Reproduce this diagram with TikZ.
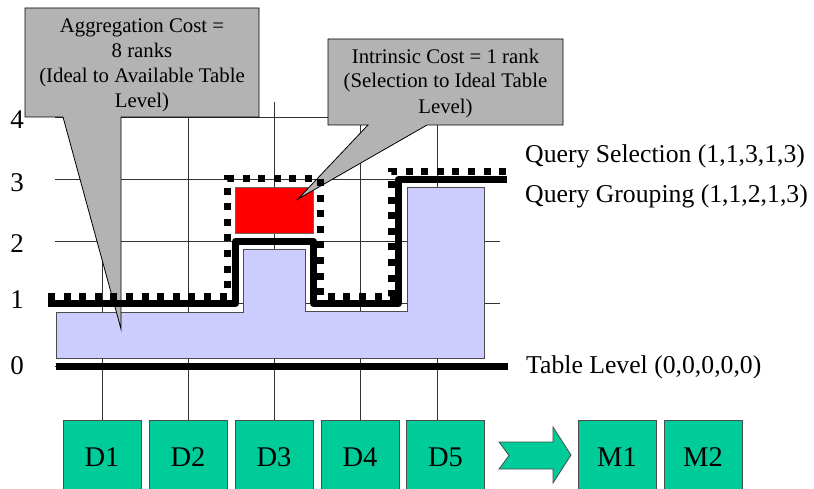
\documentclass[tikz,border=0pt]{standalone}
\usepackage{fontspec}
\setmainfont{Liberation Serif}
\definecolor{dimgreen}{RGB}{0,204,153}
\definecolor{lav}{RGB}{204,204,255}
\definecolor{calloutgray}{RGB}{179,179,179}
\begin{document}
\begin{tikzpicture}[x=1pt,y=-1pt,
  gridline/.style={line width=0.9pt, draw=black!80},
  dimbox/.style={draw=black!70, line width=0.8pt, fill=dimgreen, minimum width=78pt,
    minimum height=74pt, inner sep=0pt, font=\fontsize{28.5}{30}\selectfont},
  callout/.style={fill=calloutgray, draw=black, line width=0.8pt},
  calltext/.style={align=center, inner sep=0pt, font=\fontsize{20.8}{25}\selectfont},
  lvl/.style={inner sep=0pt, anchor=base, font=\fontsize{27}{30}\selectfont},
  sidelabel/.style={inner sep=0pt, anchor=base west, font=\fontsize{25.7}{30}\selectfont},
  grouping/.style={line width=7pt, line join=round},
  selection/.style={line width=7pt, dash pattern=on 7pt off 8.6pt},
]
% canvas
\fill[white] (0,0) rectangle (814,489);
\useasboundingbox (0,0) rectangle (814,489);

% dimension boxes and the derived measures
\node[dimbox] (d1) at (102,457) {D1};
\node[dimbox] (d2) at (188,457) {D2};
\node[dimbox] (d3) at (274,457) {D3};
\node[dimbox] (d4) at (360,457) {D4};
\node[dimbox] (d5) at (445.5,457) {D5};
\node[dimbox] (m1) at (617,457) {M1};
\node[dimbox] (m2) at (703,457) {M2};

% vertical grid lines rising from each dimension
\coordinate (gtop) at (0,102);
\foreach \d in {d1,d2,d3,d4} \draw[gridline] (\d.north) -- (\d.north |- gtop);
\coordinate (g5) at (437,102);
\draw[gridline] (g5) -- (g5 |- d5.north);

% horizontal level lines
\foreach \k in {0,...,4} \draw[gridline] (55,366-62.25*\k) -- (500,366-62.25*\k);

% available table region
\draw[fill=lav, draw=black!70, line width=0.8pt]
  (56,312) -- (243,312) -- (243,249) -- (305,249) -- (305,311) -- (407,311)
  -- (407,187) -- (484,187) -- (484,358) -- (56,358) -- cycle;

% ideal selection cell
\draw[fill=red, draw=black!60, line width=0.8pt] (235,187) rectangle (313,233);

% callouts
\draw[callout] (25,8) -- (259,8) -- (259,117) -- (121,117) -- (121,329)
  -- (63,117) -- (25,117) -- cycle;
\node[calltext] (aggtext) at (142,65.5)
  {Aggregation Cost =\\8 ranks\\(Ideal to Available Table\\Level)};
\draw[callout] (328,39) -- (563,39) -- (563,125) -- (427,125) -- (298,199)
  -- (368,125) -- (328,125) -- cycle;
\node[calltext] (inttext) at (445.5,83)
  {Intrinsic Cost = 1 rank\\(Selection to Ideal Table\\Level)};

% table level, query grouping and query selection
\draw[line width=7pt] (56,366) -- (508,366);
\draw[grouping] (48,303.5) -- (235.5,303.5) -- (235.5,241.5) -- (313.5,241.5)
  -- (313.5,303.5) -- (398.5,303.5) -- (398.5,179.5) -- (507,179.5);
\draw[selection] (48,296.5) -- (227,296.5) -- (227,179) -- (320.5,179)
  -- (320.5,296.5) -- (391,296.5) -- (391,171.5) -- (507,171.5);

% mapping arrow from dimensions to measures
\draw[fill=dimgreen, draw=black!70, line width=0.8pt]
  (499,442) -- (553,442) -- (553,427) -- (571,455) -- (553,483) -- (553,469)
  -- (499,469) -- (509,455.5) -- cycle;

% level numbers
\node[lvl] (l4) at (17,128.5) {4};
\node[lvl] (l3) at (17,191.5) {3};
\node[lvl] (l2) at (17,252) {2};
\node[lvl] (l1) at (17,308) {1};
\node[lvl] (l0) at (17,374) {0};

% side labels
\node[sidelabel] (qs) at (525,163) {Query Selection (1,1,3,1,3)};
\node[sidelabel] (qg) at (525,203) {Query Grouping (1,1,2,1,3)};
\node[sidelabel] (tl) at (526,373) {Table Level (0,0,0,0,0)};
\end{tikzpicture}
\end{document}
